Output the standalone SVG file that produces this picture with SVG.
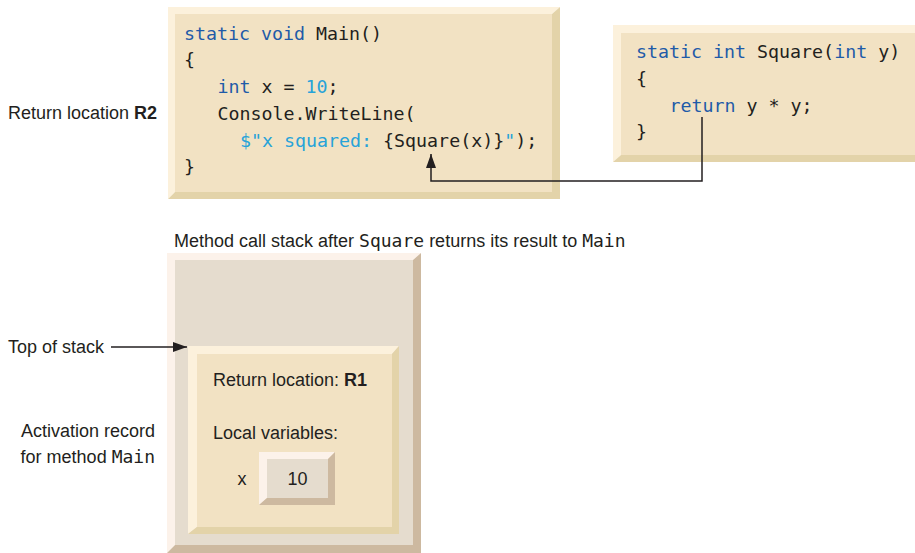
<svg xmlns="http://www.w3.org/2000/svg" width="915" height="553" viewBox="0 0 915 553">
<defs>
<style>
.code{font-family:"DejaVu Sans Mono","Liberation Mono",monospace;font-size:18.3px;fill:#231f20}
.kw{fill:#1f5ba8}
.lit{fill:#27a3d9}
.lbl{font-family:"Liberation Sans","Open Sans",sans-serif;font-size:18px;fill:#231f20}
.mono{font-family:"DejaVu Sans Mono","Liberation Mono",monospace;font-size:18px}
.b{font-weight:bold}
.line{fill:none;stroke:#231f20;stroke-width:1.5}
.yface{fill:#f2e2c3}.ylt{fill:#fcf1dc}.ydk{fill:#e3d3a9}
.gface{fill:#e5dcce}.glt{fill:#fcf2ea}.gdk{fill:#cdb9a0}
</style>
<marker id="ah" viewBox="0 0 14 10" refX="14" refY="5" markerWidth="14" markerHeight="10" markerUnits="userSpaceOnUse" orient="auto">
<path d="M0,0 L14,5 L0,10 Z" fill="#231f20"/>
</marker>
</defs>
<rect width="915" height="553" fill="#ffffff"/>

<g id="main-code">
<polygon class="ylt" points="168,7 560,7 552,14 175,14 175,192 168,199"/>
<polygon class="ydk" points="560,7 560,199 168,199 175,192 552,192 552,14"/>
<rect class="yface" x="175" y="14" width="377" height="178"/>
<text class="code" x="184" y="40"><tspan class="kw">static void</tspan> Main()</text>
<text class="code" x="184" y="66">{</text>
<text class="code" x="217.5" y="93"><tspan class="kw">int</tspan> x = <tspan class="lit">10</tspan>;</text>
<text class="code" x="217.5" y="120">Console.WriteLine(</text>
<text class="code" x="240" y="147"><tspan class="lit">$"x squared: </tspan>{Square(x)}<tspan class="lit">"</tspan>);</text>
<text class="code" x="184" y="173">}</text>
</g>

<g id="square-code">
<polygon class="ylt" points="613,25 915,25 915,33 621,33 621,155 613,162"/>
<polygon class="ydk" points="613,162 621,155 915,155 915,162"/>
<rect class="yface" x="621" y="33" width="294" height="122"/>
<text class="code" x="636" y="58"><tspan class="kw">static int</tspan> Square(<tspan class="kw">int</tspan> y)</text>
<text class="code" x="636" y="85">{</text>
<text class="code" x="669.5" y="112"><tspan class="kw">return</tspan> y * y;</text>
<text class="code" x="636" y="138">}</text>
</g>

<g id="label-r2">
<text class="lbl" x="8" y="119">Return location <tspan class="b">R2</tspan></text>
</g>

<g id="caption">
<text class="lbl" x="174" y="247">Method call stack after <tspan class="mono">Square</tspan> returns its result to <tspan class="mono">Main</tspan></text>
</g>

<g id="stack">
<polygon class="glt" points="167,253 421,253 413,260 175,260 175,545 167,553"/>
<polygon class="gdk" points="421,253 421,553 167,553 175,545 413,545 413,260"/>
<rect class="gface" x="175" y="260" width="238" height="285"/>
</g>

<g id="activation-record">
<polygon class="ylt" points="188,346 399,346 392,354 197,354 197,527 188,534"/>
<polygon class="ydk" points="399,346 399,534 188,534 197,527 392,527 392,354"/>
<rect class="yface" x="197" y="354" width="195" height="173"/>
<text class="lbl" x="213" y="386">Return location: <tspan class="b">R1</tspan></text>
<text class="lbl" x="213" y="439">Local variables:</text>
<text class="lbl" x="242" y="485" text-anchor="middle">x</text>
</g>

<g id="var-x">
<polygon class="glt" points="259,452 335,452 328,459 267,459 267,498 259,505"/>
<polygon class="gdk" points="335,452 335,505 259,505 267,498 328,498 328,459"/>
<rect class="gface" x="267" y="459" width="61" height="39"/>
<text class="lbl" x="297.5" y="485" text-anchor="middle">10</text>
</g>

<g id="label-top">
<text class="lbl" x="8" y="353">Top of stack</text>
</g>

<g id="label-activation">
<text class="lbl" x="155" y="437" text-anchor="end">Activation record</text>
<text class="lbl" x="155" y="463" text-anchor="end">for method <tspan class="mono">Main</tspan></text>
</g>

<g id="connectors">
<path class="line" d="M702,117 V181 H431 V154" marker-end="url(#ah)"/>
<path class="line" d="M111,347 H187" marker-end="url(#ah)"/>
</g>
</svg>
